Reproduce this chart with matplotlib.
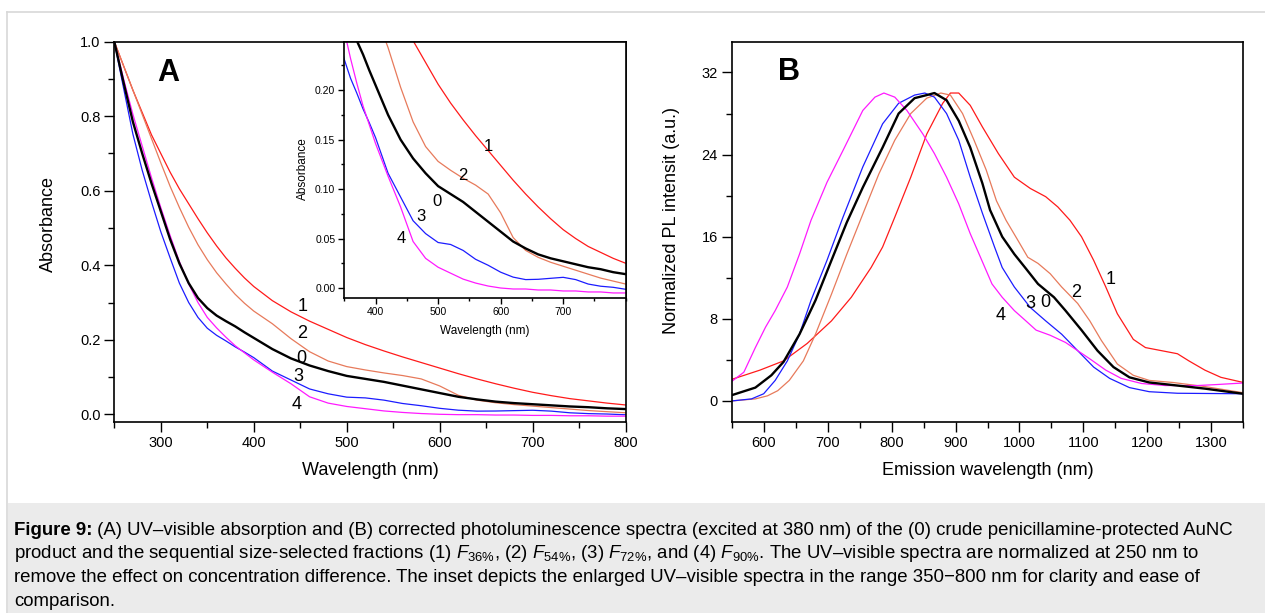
import matplotlib
matplotlib.use('Agg')
import matplotlib.pyplot as plt
from matplotlib.patches import Rectangle
from matplotlib.lines import Line2D
from matplotlib.ticker import MultipleLocator, FormatStrFormatter

plt.rcParams['font.family'] = ['Liberation Sans', 'DejaVu Sans']
plt.rcParams['mathtext.fontset'] = 'custom'
plt.rcParams['mathtext.rm'] = 'Liberation Sans'
plt.rcParams['mathtext.it'] = 'Liberation Sans:italic'
plt.rcParams['mathtext.bf'] = 'Liberation Sans:bold'

# ---- Panel A: UV-vis absorbance (normalized at 250 nm) ----
wl_abs = [250, 260, 270, 280, 290, 300, 310, 320, 330, 340, 350, 360, 370, 380, 390, 400,
          420, 440, 460, 480, 500, 520, 540, 560, 580, 600, 620, 640, 660, 680, 700, 720,
          740, 760, 780, 800]
abs_0 = [1.000, 0.890, 0.785, 0.700, 0.620, 0.545, 0.470, 0.405, 0.352, 0.312, 0.285, 0.265,
         0.250, 0.236, 0.220, 0.205, 0.175, 0.150, 0.131, 0.116, 0.103, 0.095, 0.087, 0.077,
         0.067, 0.057, 0.047, 0.040, 0.034, 0.030, 0.027, 0.024, 0.021, 0.019, 0.016, 0.014]
abs_1 = [1.000, 0.935, 0.870, 0.810, 0.750, 0.700, 0.650, 0.605, 0.565, 0.525, 0.487, 0.452,
         0.420, 0.392, 0.366, 0.343, 0.305, 0.275, 0.250, 0.228, 0.206, 0.187, 0.170, 0.154,
         0.139, 0.124, 0.109, 0.095, 0.082, 0.070, 0.059, 0.050, 0.042, 0.036, 0.030, 0.025]
abs_2 = [1.000, 0.935, 0.870, 0.805, 0.740, 0.675, 0.612, 0.555, 0.502, 0.455, 0.415, 0.380,
         0.350, 0.322, 0.298, 0.277, 0.243, 0.203, 0.168, 0.143, 0.128, 0.119, 0.111, 0.104,
         0.095, 0.076, 0.051, 0.038, 0.031, 0.026, 0.022, 0.018, 0.014, 0.010, 0.007, 0.004]
abs_3 = [1.000, 0.875, 0.752, 0.655, 0.570, 0.490, 0.420, 0.352, 0.300, 0.260, 0.231, 0.212,
         0.197, 0.181, 0.167, 0.152, 0.116, 0.092, 0.068, 0.055, 0.046, 0.044, 0.038, 0.029,
         0.023, 0.016, 0.011, 0.0085, 0.0088, 0.0098, 0.0108, 0.0085, 0.004, 0.0018, 0.0007, -0.0013]
abs_4 = [1.000, 0.900, 0.805, 0.720, 0.635, 0.555, 0.480, 0.410, 0.350, 0.300, 0.260, 0.232,
         0.207, 0.184, 0.165, 0.146, 0.113, 0.082, 0.047, 0.030, 0.021, 0.015, 0.009, 0.005,
         0.002, 0.000, -0.001, -0.001, -0.002, -0.002, -0.003, -0.003, -0.004, -0.004, -0.005, -0.005]

# ---- Panel B: normalized PL spectra ----
wl_pl_0 = [552, 587, 612, 631, 656, 681, 706, 730, 755, 786, 811, 836, 855, 867, 886, 905, 923,
           942, 954, 973, 992, 1010, 1029, 1054, 1072, 1097, 1122, 1147, 1172, 1203, 1247, 1290, 1350]
pl_0 = [0.6, 1.3, 2.5, 3.8, 6.5, 9.8, 13.7, 17.4, 20.8, 24.7, 28.0, 29.5, 29.8, 30.0, 29.3, 27.3,
        24.7, 21.2, 18.6, 16.0, 14.3, 12.9, 11.4, 10.1, 8.8, 6.9, 4.9, 3.3, 2.3, 1.8, 1.5, 1.2, 0.7]
wl_pl_1 = [550, 594, 631, 668, 706, 737, 768, 786, 805, 830, 855, 880, 892, 905, 923, 942, 967,
           992, 1017, 1041, 1060, 1079, 1097, 1116, 1135, 1153, 1178, 1197, 1222, 1247, 1265, 1290,
           1315, 1350]
pl_1 = [2.1, 3.0, 3.9, 5.6, 7.8, 10.1, 13.0, 15.0, 17.9, 21.8, 26.0, 29.0, 30.0, 30.0, 28.8, 26.7,
        24.1, 21.8, 20.7, 19.9, 18.9, 17.6, 16.0, 13.7, 11.1, 8.5, 6.0, 5.2, 4.9, 4.6, 3.9, 3.0,
        2.3, 1.8]
wl_pl_2 = [550, 587, 606, 622, 640, 662, 681, 706, 730, 755, 780, 805, 830, 855, 877, 892, 911,
           929, 948, 964, 979, 998, 1013, 1029, 1048, 1066, 1091, 1110, 1128, 1153, 1178, 1203,
           1240, 1290, 1350]
pl_2 = [0.0, 0.2, 0.5, 1.0, 2.0, 3.9, 6.5, 10.4, 14.3, 18.2, 22.1, 25.4, 28.0, 29.5, 30.0, 29.8,
        28.0, 25.4, 22.5, 19.5, 17.6, 15.6, 14.0, 13.4, 12.4, 11.1, 9.5, 7.8, 5.9, 3.6, 2.5, 2.0,
        1.8, 1.4, 0.8]
wl_pl_3 = [550, 581, 600, 618, 637, 656, 674, 699, 724, 755, 786, 811, 836, 852, 867, 886, 905,
           923, 942, 961, 973, 992, 1017, 1041, 1066, 1091, 1116, 1141, 1172, 1203, 1247, 1350]
pl_3 = [0.0, 0.2, 0.7, 2.0, 3.9, 6.5, 9.8, 13.7, 17.9, 22.8, 27.0, 29.0, 29.8, 30.0, 29.6, 28.0,
        25.4, 21.8, 18.3, 15.0, 13.0, 11.1, 9.1, 7.8, 6.5, 4.9, 3.3, 2.2, 1.3, 0.9, 0.75, 0.7]
wl_pl_4 = [550, 569, 587, 603, 618, 637, 656, 674, 699, 724, 755, 774, 788, 805, 824, 849, 867,
           886, 905, 923, 939, 957, 973, 992, 1010, 1026, 1048, 1072, 1091, 1110, 1135, 1159, 1191,
           1228, 1278, 1309, 1350]
pl_4 = [1.9, 2.8, 5.2, 7.2, 8.8, 11.1, 14.3, 17.6, 21.3, 24.4, 28.3, 29.6, 30.0, 29.6, 28.3, 26.0,
        24.1, 21.8, 19.2, 16.3, 14.0, 11.4, 10.1, 8.8, 7.8, 6.9, 6.4, 5.7, 4.9, 4.1, 3.0, 2.2, 1.7,
        1.5, 1.5, 1.6, 1.75]

colors = {'0': '#000000', '1': '#ff1a1a', '2': '#e77a5b', '3': '#1c1cff', '4': '#ff1aff'}
widths = {'0': 1.7, '1': 0.9, '2': 0.9, '3': 0.9, '4': 0.9}

# label positions (data coords)
lab_main = {'1': (453, 0.289), '2': (452, 0.218), '0': (451, 0.150), '3': (448, 0.101), '4': (446, 0.025)}
lab_inset = {'1': (581, 0.143), '2': (540, 0.114), '0': (498, 0.087), '3': (473, 0.072), '4': (441, 0.050)}
lab_pl = {'1': (1142, 11.8), '2': (1089, 10.6), '0': (1041, 9.6), '3': (1017, 9.5), '4': (971, 8.3)}

W, H = 1265, 613
fig = plt.figure(figsize=(W / 100, H / 100), dpi=100)


def fx(px):
    return px / W


def fy(py):
    return 1 - py / H


# page frame and caption box
fig.add_artist(Line2D([fx(7), 1], [fy(12), fy(12)], color='#d8d8d8', lw=1.2))
fig.add_artist(Line2D([fx(7), fx(7)], [fy(12), 0], color='#d8d8d8', lw=1.2))
fig.add_artist(Rectangle((fx(8), 0), 1, fy(503), facecolor='#ebebeb', edgecolor='none'))


def style(ax, lsize, major, minor, pad):
    ax.tick_params(which='both', direction='out', top=False, right=False,
                   labelsize=lsize, width=1.0, colors='black', pad=pad)
    ax.tick_params(which='major', length=major)
    ax.tick_params(which='minor', length=minor)
    for s in ax.spines.values():
        s.set_linewidth(1.2)


abs_data = {'0': abs_0, '1': abs_1, '2': abs_2, '3': abs_3, '4': abs_4}
pl_data = {'0': (wl_pl_0, pl_0), '1': (wl_pl_1, pl_1), '2': (wl_pl_2, pl_2),
           '3': (wl_pl_3, pl_3), '4': (wl_pl_4, pl_4)}
draw_order = ['1', '2', '3', '4', '0']

# ---- main panel A ----
axA = fig.add_axes([fx(114.3), fy(422.3), fx(625.7 - 114.3), (422.3 - 41.7) / H])
for k in draw_order:
    axA.plot(wl_abs, abs_data[k], color=colors[k], lw=widths[k])
axA.set_xlim(250, 800)
axA.set_ylim(-0.0215, 1.0)
axA.xaxis.set_major_locator(MultipleLocator(100))
axA.xaxis.set_minor_locator(MultipleLocator(50))
axA.yaxis.set_major_locator(MultipleLocator(0.2))
axA.yaxis.set_minor_locator(MultipleLocator(0.1))
axA.yaxis.set_major_formatter(FormatStrFormatter('%.1f'))
style(axA, 10.5, 7, 4, 3)
axA.set_xlabel('Wavelength (nm)', fontsize=13)
axA.set_ylabel('Absorbance', fontsize=13)
axA.xaxis.set_label_coords(0.5, -0.105)
axA.yaxis.set_label_coords(-0.112, 0.52)
axA.text(0.105, 0.918, 'A', transform=axA.transAxes, fontsize=22, fontweight='bold',
         ha='center', va='center')
for k, (x, y) in lab_main.items():
    axA.text(x, y, k, fontsize=13, ha='center', va='center')

# ---- inset ----
axI = fig.add_axes([fx(344.3), fy(297.7), fx(625.7 - 344.3), (297.7 - 41.7) / H])
for k in draw_order:
    axI.plot(wl_abs, abs_data[k], color=colors[k], lw=widths[k])
axI.set_xlim(350, 800)
axI.set_ylim(-0.0098, 0.249)
axI.xaxis.set_minor_locator(MultipleLocator(50))
axI.set_xticks([400, 500, 600, 700])
axI.yaxis.set_major_locator(MultipleLocator(0.05))
axI.yaxis.set_minor_locator(MultipleLocator(0.025))
axI.yaxis.set_major_formatter(FormatStrFormatter('%.2f'))
style(axI, 7.5, 4.5, 2.5, 2)
axI.set_xlabel('Wavelength (nm)', fontsize=8.5)
axI.set_ylabel('Absorbance', fontsize=8.5)
axI.xaxis.set_label_coords(0.5, -0.105)
axI.yaxis.set_label_coords(-0.125, 0.505)
for k, (x, y) in lab_inset.items():
    axI.text(x, y, k, fontsize=12, ha='center', va='center')

# ---- panel B ----
axB = fig.add_axes([fx(731.7), fy(422.3), fx(1243.3 - 731.7), (422.3 - 41.7) / H])
for k in draw_order:
    axB.plot(pl_data[k][0], pl_data[k][1], color=colors[k], lw=widths[k])
axB.set_xlim(550, 1350)
axB.set_ylim(-2.08, 35)
axB.xaxis.set_major_locator(MultipleLocator(100))
axB.xaxis.set_minor_locator(MultipleLocator(50))
axB.yaxis.set_major_locator(MultipleLocator(8))
axB.yaxis.set_minor_locator(MultipleLocator(4))
style(axB, 10.5, 7, 4, 3)
axB.set_xlabel('Emission wavelength (nm)', fontsize=13)
axB.set_ylabel('Normalized PL intensit (a.u.)', fontsize=13)
axB.xaxis.set_label_coords(0.5, -0.105)
axB.yaxis.set_label_coords(-0.101, 0.529)
axB.text(0.112, 0.92, 'B', transform=axB.transAxes, fontsize=22, fontweight='bold',
         ha='center', va='center')
for k, (x, y) in lab_pl.items():
    axB.text(x, y, k, fontsize=13, ha='center', va='center')

# ---- caption ----
cap_size = 13.4
cap_x = 14
r = fig.canvas.get_renderer()
t = fig.text(fx(cap_x), fy(535), 'Figure 9:', fontsize=cap_size, fontweight='bold', va='baseline')
bb = t.get_window_extent(r)
fig.text(bb.x1 / W, fy(535),
         ' (A) UV\u2013visible absorption and (B) corrected photoluminescence spectra (excited at 380 nm) '
         'of the (0) crude penicillamine-protected AuNC', fontsize=cap_size, va='baseline')
fig.text(fx(cap_x), fy(558.5),
         'product and the sequential size-selected fractions (1) $F_{36\\%}$, (2) $F_{54\\%}$, '
         '(3) $F_{72\\%}$, and (4) $F_{90\\%}$. The UV\u2013visible spectra are normalized at 250 nm to',
         fontsize=cap_size, va='baseline')
fig.text(fx(cap_x), fy(582),
         'remove the effect on concentration difference. The inset depicts the enlarged UV\u2013visible '
         'spectra in the range 350\u2212800 nm for clarity and ease of',
         fontsize=cap_size, va='baseline')
fig.text(fx(cap_x), fy(605.5), 'comparison.', fontsize=cap_size, va='baseline')

fig.savefig('out.png', dpi=100)
